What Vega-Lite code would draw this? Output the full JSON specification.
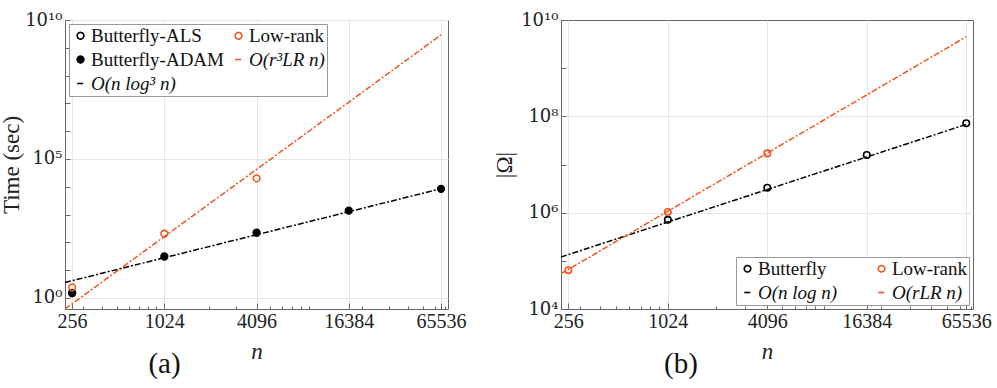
{
  "$schema": "https://vega.github.io/schema/vega-lite/v6.json",
  "autosize": "pad",
  "padding": {"left": 0, "top": 10, "right": 0, "bottom": 0},
  "background": "white",
  "spacing": 113,
  "bounds": "flush",
  "datasets": {
    "a_pts": [
      {"n": 256, "value": 1.5, "series": "Butterfly-ALS"},
      {"n": 256, "value": 1.5, "series": "Butterfly-ADAM"},
      {"n": 1024, "value": 31, "series": "Butterfly-ADAM"},
      {"n": 4096, "value": 222, "series": "Butterfly-ADAM"},
      {"n": 16384, "value": 1380, "series": "Butterfly-ADAM"},
      {"n": 65536, "value": 8400, "series": "Butterfly-ADAM"},
      {"n": 256, "value": 2.4, "series": "Low-rank"},
      {"n": 1024, "value": 205, "series": "Low-rank"},
      {"n": 4096, "value": 20000, "series": "Low-rank"}
    ],
    "a_lines": [
      {"n": 230, "value": 0.4, "series": "O(r³LR n)"},
      {"n": 65536, "value": 2900000000, "series": "O(r³LR n)"},
      {"n": 230, "value": 3.6, "series": "O(n log³ n)"},
      {"n": 65536, "value": 8500, "series": "O(n log³ n)"}
    ],
    "b_pts": [
      {"n": 1024, "value": 710000, "series": "Butterfly"},
      {"n": 4096, "value": 3300000, "series": "Butterfly"},
      {"n": 16384, "value": 15700000, "series": "Butterfly"},
      {"n": 65536, "value": 72000000, "series": "Butterfly"},
      {"n": 256, "value": 64000, "series": "Low-rank"},
      {"n": 1024, "value": 1030000, "series": "Low-rank"},
      {"n": 4096, "value": 17000000, "series": "Low-rank"}
    ],
    "b_lines": [
      {"n": 231, "value": 120000, "series": "O(n log n)"},
      {"n": 65536, "value": 68000000, "series": "O(n log n)"},
      {"n": 231, "value": 54000, "series": "O(rLR n)"},
      {"n": 65536, "value": 4500000000, "series": "O(rLR n)"}
    ]
  },
  "resolve": {
    "scale": {"x": "independent", "y": "independent", "stroke": "independent", "fill": "independent", "shape": "independent", "size": "independent", "strokeDash": "independent"},
    "legend": {"stroke": "independent", "fill": "independent", "shape": "independent", "size": "independent", "strokeDash": "independent"}
  },
  "hconcat": [
    {
      "width": 383,
      "height": 289,
      "title": {"text": "(a)", "orient": "bottom", "anchor": "middle", "dx": -92, "offset": -13, "fontSize": 29, "font": "Liberation Serif", "fontWeight": "normal", "color": "#111"},
      "encoding": {
        "x": {"field": "n", "type": "quantitative",
          "scale": {"type": "log", "base": 2, "domain": [230, 72800], "nice": false},
          "axis": {"title": "n", "titleFontStyle": "italic", "labelFont": "Liberation Serif",
            "values": [256, 300, 400, 500, 600, 700, 800, 900, 1024, 2000, 3000, 4096, 5000, 6000, 7000, 8000, 9000, 16384, 20000, 30000, 40000, 50000, 60000, 65536, 70000],
            "labelExpr": "indexof([256,1024,4096,16384,65536], datum.value) >= 0 ? '' + datum.value : ''",
            "tickSize": {"condition": {"test": "indexof([256,1024,4096,16384,65536], datum.value) >= 0", "value": -6}, "value": -3},
            "gridOpacity": {"condition": {"test": "indexof([256,1024,4096,16384,65536], datum.value) >= 0", "value": 1}, "value": 0}
          }},
        "y": {"field": "value", "type": "quantitative",
          "scale": {"type": "log", "domain": [0.4, 10000000000], "nice": false},
          "axis": {"title": "Time (sec)", "labelFont": "DejaVu Serif", "labelFontSize": 18, "titlePadding": 1,
            "values": [1, 10, 100, 1000, 10000, 100000, 1000000, 10000000, 100000000, 1000000000, 10000000000],
            "labelExpr": "datum.value == 1 ? '10⁰' : datum.value == 100000 ? '10⁵' : datum.value == 10000000000 ? '10¹⁰' : ''",
            "gridOpacity": {"condition": {"test": "datum.value == 1 || datum.value == 100000 || datum.value == 10000000000", "value": 1}, "value": 0}
          }}
      },
      "layer": [
        {
          "data": {"name": "a_lines"},
          "mark": {"type": "line", "strokeWidth": 1.5, "clip": true},
          "encoding": {
            "stroke": {"field": "series", "type": "nominal",
              "scale": {"domain": ["Butterfly-ALS", "Low-rank", "Butterfly-ADAM", "O(r³LR n)", "O(n log³ n)"], "range": ["#000000", "#f2561d", "#000000", "#f2561d", "#000000"]},
              "legend": {"title": null, "orient": "top-left", "columns": 2, "direction": "horizontal", "columnPadding": 5, "labelFont": "Liberation Serif",
                "encode": {
                  "labels": {"update": {"font": {"value": "Liberation Serif"}, "fontStyle": {"signal": "indexof(datum.label, 'O(') === 0 ? 'italic' : 'normal'"}}},
                  "symbols": {"update": {"strokeDash": {"signal": "indexof('' + datum.value, 'O(') === 0 ? [3, 2] : [1, 0]"}}}
                }}},
            "strokeDash": {"field": "series", "type": "nominal",
              "scale": {"domain": ["Butterfly-ALS", "Low-rank", "Butterfly-ADAM", "O(r³LR n)", "O(n log³ n)"], "range": [[1, 0], [1, 0], [1, 0], [6, 2, 2, 2], [6, 2, 2, 2]]},
              "legend": {"title": null, "orient": "top-left", "columns": 2, "direction": "horizontal", "columnPadding": 5, "labelFont": "Liberation Serif"}}
          }
        },
        {
          "data": {"name": "a_pts"},
          "mark": {"type": "point", "strokeWidth": 1.6, "opacity": 1},
          "encoding": {
            "stroke": {"field": "series", "type": "nominal",
              "scale": {"domain": ["Butterfly-ALS", "Low-rank", "Butterfly-ADAM", "O(r³LR n)", "O(n log³ n)"], "range": ["#000000", "#f2561d", "#000000", "#f2561d", "#000000"]},
              "legend": {"title": null, "orient": "top-left", "columns": 2, "direction": "horizontal", "columnPadding": 5, "labelFont": "Liberation Serif"}},
            "fill": {"field": "series", "type": "nominal",
              "scale": {"domain": ["Butterfly-ALS", "Low-rank", "Butterfly-ADAM", "O(r³LR n)", "O(n log³ n)"], "range": ["transparent", "transparent", "#000000", "transparent", "transparent"]},
              "legend": {"title": null, "orient": "top-left", "columns": 2, "direction": "horizontal", "columnPadding": 5, "labelFont": "Liberation Serif"}},
            "shape": {"field": "series", "type": "nominal",
              "scale": {"domain": ["Butterfly-ALS", "Low-rank", "Butterfly-ADAM", "O(r³LR n)", "O(n log³ n)"], "range": ["circle", "circle", "circle", "stroke", "stroke"]},
              "legend": {"title": null, "orient": "top-left", "columns": 2, "direction": "horizontal", "columnPadding": 5, "labelFont": "Liberation Serif"}},
            "size": {"field": "series", "type": "nominal",
              "scale": {"domain": ["Butterfly-ALS", "Low-rank", "Butterfly-ADAM", "O(r³LR n)", "O(n log³ n)"], "range": [45, 45, 45, 256, 256]},
              "legend": {"title": null, "orient": "top-left", "columns": 2, "direction": "horizontal", "columnPadding": 5, "labelFont": "Liberation Serif"}}
          }
        }
      ]
    },
    {
      "width": 412,
      "height": 289,
      "title": {"text": "(b)", "orient": "bottom", "anchor": "middle", "dx": -86, "offset": -13, "fontSize": 29, "font": "Liberation Serif", "fontWeight": "normal", "color": "#111"},
      "encoding": {
        "x": {"field": "n", "type": "quantitative",
          "scale": {"type": "log", "base": 2, "domain": [231, 72000], "nice": false},
          "axis": {"title": "n", "titleFontStyle": "italic", "labelFont": "Liberation Serif",
            "values": [256, 300, 400, 500, 600, 700, 800, 900, 1024, 2000, 3000, 4096, 5000, 6000, 7000, 8000, 9000, 16384, 20000, 30000, 40000, 50000, 60000, 65536, 70000],
            "labelExpr": "indexof([256,1024,4096,16384,65536], datum.value) >= 0 ? '' + datum.value : ''",
            "tickSize": {"condition": {"test": "indexof([256,1024,4096,16384,65536], datum.value) >= 0", "value": -6}, "value": -3},
            "gridOpacity": {"condition": {"test": "indexof([256,1024,4096,16384,65536], datum.value) >= 0", "value": 1}, "value": 0}
          }},
        "y": {"field": "value", "type": "quantitative",
          "scale": {"type": "log", "domain": [10000, 10000000000], "nice": false},
          "axis": {"title": "|Ω|", "labelFont": "DejaVu Serif", "labelFontSize": 18, "titlePadding": 4,
            "values": [10000, 100000, 1000000, 10000000, 100000000, 1000000000, 10000000000],
            "labelExpr": "datum.value == 10000 ? '10⁴' : datum.value == 1000000 ? '10⁶' : datum.value == 100000000 ? '10⁸' : datum.value == 10000000000 ? '10¹⁰' : ''",
            "gridOpacity": {"condition": {"test": "datum.value == 1000000 || datum.value == 100000000", "value": 1}, "value": 0}
          }}
      },
      "layer": [
        {
          "data": {"name": "b_lines"},
          "mark": {"type": "line", "strokeWidth": 1.5, "clip": true},
          "encoding": {
            "stroke": {"field": "series", "type": "nominal",
              "scale": {"domain": ["Butterfly", "Low-rank", "O(n log n)", "O(rLR n)"], "range": ["#000000", "#f2561d", "#000000", "#f2561d"]},
              "legend": {"title": null, "orient": "bottom-right", "columns": 2, "direction": "horizontal", "columnPadding": 34, "labelFont": "Liberation Serif",
                "encode": {
                  "labels": {"update": {"font": {"value": "Liberation Serif"}, "fontStyle": {"signal": "indexof(datum.label, 'O(') === 0 ? 'italic' : 'normal'"}}},
                  "symbols": {"update": {"strokeDash": {"signal": "indexof('' + datum.value, 'O(') === 0 ? [3, 2] : [1, 0]"}}}
                }}},
            "strokeDash": {"field": "series", "type": "nominal",
              "scale": {"domain": ["Butterfly", "Low-rank", "O(n log n)", "O(rLR n)"], "range": [[1, 0], [1, 0], [6, 2, 2, 2], [6, 2, 2, 2]]},
              "legend": {"title": null, "orient": "bottom-right", "columns": 2, "direction": "horizontal", "columnPadding": 34, "labelFont": "Liberation Serif"}}
          }
        },
        {
          "data": {"name": "b_pts"},
          "mark": {"type": "point", "strokeWidth": 1.6, "opacity": 1},
          "encoding": {
            "stroke": {"field": "series", "type": "nominal",
              "scale": {"domain": ["Butterfly", "Low-rank", "O(n log n)", "O(rLR n)"], "range": ["#000000", "#f2561d", "#000000", "#f2561d"]},
              "legend": {"title": null, "orient": "bottom-right", "columns": 2, "direction": "horizontal", "columnPadding": 34, "labelFont": "Liberation Serif"}},
            "fill": {"field": "series", "type": "nominal",
              "scale": {"domain": ["Butterfly", "Low-rank", "O(n log n)", "O(rLR n)"], "range": ["transparent", "transparent", "transparent", "transparent"]},
              "legend": {"title": null, "orient": "bottom-right", "columns": 2, "direction": "horizontal", "columnPadding": 34, "labelFont": "Liberation Serif"}},
            "shape": {"field": "series", "type": "nominal",
              "scale": {"domain": ["Butterfly", "Low-rank", "O(n log n)", "O(rLR n)"], "range": ["circle", "circle", "stroke", "stroke"]},
              "legend": {"title": null, "orient": "bottom-right", "columns": 2, "direction": "horizontal", "columnPadding": 34, "labelFont": "Liberation Serif"}},
            "size": {"field": "series", "type": "nominal",
              "scale": {"domain": ["Butterfly", "Low-rank", "O(n log n)", "O(rLR n)"], "range": [42, 42, 256, 256]},
              "legend": {"title": null, "orient": "bottom-right", "columns": 2, "direction": "horizontal", "columnPadding": 34, "labelFont": "Liberation Serif"}}
          }
        }
      ]
    }
  ],
  "config": {
    "font": "Liberation Serif",
    "view": {"stroke": "#666666", "strokeWidth": 1},
    "axis": {
      "domain": false,
      "grid": true,
      "gridColor": "#e6e6e6",
      "gridWidth": 1,
      "ticks": true,
      "tickColor": "#666666",
      "tickSize": -5,
      "labelFont": "Liberation Serif",
      "labelFontSize": 20,
      "labelColor": "#222222",
      "labelPadding": 8,
      "labelOverlap": false,
      "labelBound": false,
      "labelFlush": false,
      "titleFont": "Liberation Serif",
      "titleFontSize": 23,
      "titleFontWeight": "normal",
      "titleColor": "#222222"
    },
    "axisX": {"titlePadding": 6},
    "legend": {
      "strokeColor": "#999999",
      "fillColor": "white",
      "padding": 2,
      "offset": 4,
      "labelFont": "Liberation Serif",
      "labelFontSize": 19,
      "labelColor": "#111111",
      "labelLimit": 300,
      "symbolStrokeWidth": 1.6,
      "rowPadding": 4,
      "labelOffset": 1
    }
  }
}
